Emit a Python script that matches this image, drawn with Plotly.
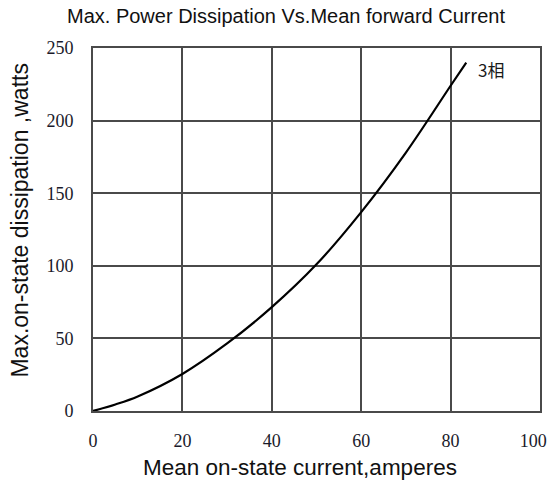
import plotly.graph_objects as go

# Mean on-state current (A) and max on-state dissipation (W), three-phase curve
current = [0, 5, 10, 20, 30, 40, 50, 60, 70, 80, 83.5]
dissipation = [0, 4.5, 10, 25.5, 46.5, 71.5, 101, 137, 178, 224, 240]
curve_label = "3相"

x_ticks = [0, 20, 40, 60, 80, 100]
y_ticks = [0, 50, 100, 150, 200, 250]
# the last label is padded so it stays inside the page edge
x_tick_text = [str(v) for v in x_ticks[:-1]] + [str(x_ticks[-1]) + "\u00a0\u00a0\u00a0"]

grid_color = "#4a4a4a"
tick_font = dict(family="Liberation Serif, Times New Roman, serif", size=18, color="#1a1a2a")
sans = "Liberation Sans, Arial, sans-serif"

fig = go.Figure()
fig.add_trace(go.Scatter(
    x=current, y=dissipation, mode="lines",
    line=dict(color="black", width=2.2, shape="spline", smoothing=1.0),
    showlegend=False, hoverinfo="skip",
))

fig.add_annotation(
    x=current[-1] + 2.2, y=dissipation[-1] - 5, xref="x", yref="y",
    text=curve_label, showarrow=False, xanchor="left", yanchor="middle",
    font=dict(family="Noto Sans CJK SC, Liberation Sans, sans-serif", size=17, color="#1a1a1a"),
)

# Chart title
fig.add_annotation(
    x=0.432, y=1.088, xref="paper", yref="paper",
    xanchor="center", yanchor="middle",
    text="Max. Power Dissipation Vs.Mean forward Current", showarrow=False,
    font=dict(family=sans, size=20, color="#111"),
)

# Axis titles
fig.add_annotation(
    x=-0.163, y=0.525, xref="paper", yref="paper",
    xanchor="center", yanchor="middle",
    text="Max.on-state dissipation ,watts", textangle=-90, showarrow=False,
    font=dict(family=sans, size=23, color="#111"),
)
fig.add_annotation(
    x=0.463, y=-0.157, xref="paper", yref="paper",
    xanchor="center", yanchor="middle",
    text="Mean on-state current,amperes", showarrow=False,
    font=dict(family=sans, size=22.5, color="#111"),
)

fig.update_layout(
    width=551, height=488,
    margin=dict(l=93, r=11, t=48, b=77),
    paper_bgcolor="white", plot_bgcolor="white",
    xaxis=dict(
        range=[0, 100], tickvals=x_ticks, ticktext=x_tick_text,
        ticks="", ticklabelstandoff=12,
        showgrid=True, gridcolor=grid_color, gridwidth=1.6,
        showline=True, linecolor=grid_color, linewidth=2, mirror=True,
        zeroline=False, tickfont=tick_font, automargin=False,
        ticklabeloverflow="allow",
    ),
    yaxis=dict(
        range=[0, 250], tickvals=y_ticks, ticks="", ticklabelstandoff=14,
        showgrid=True, gridcolor=grid_color, gridwidth=1.6,
        showline=True, linecolor=grid_color, linewidth=2, mirror=True,
        zeroline=False, tickfont=tick_font, automargin=False,
        ticklabeloverflow="allow",
    ),
)

fig.write_html("out.html")
